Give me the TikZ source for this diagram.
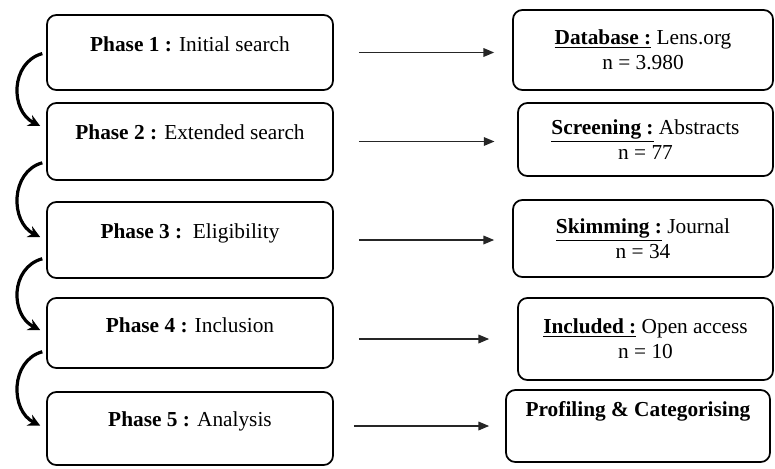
\documentclass[tikz,border=0pt]{standalone}
\usepackage{fontspec}
\setmainfont{Liberation Serif}
\usetikzlibrary{arrows.meta}

\begin{document}
\begin{tikzpicture}[x=0.75pt,y=0.75pt,yscale=-1,xscale=1,
  phasebox/.style={draw, line width=1.3pt, rounded corners=7pt, minimum width=214.5pt},
  resultbox/.style={draw, line width=1.3pt, rounded corners=7pt, align=center, inner sep=0.75pt, font=\fontsize{16}{18.5}\selectfont},
  phasetext/.style={inner sep=0.75pt, font=\fontsize{16}{18.5}\selectfont},
  flowarrow/.style={line width=0.9pt, draw=black!85, -{Triangle[length=8pt,width=6.5pt]}, shorten <=18.75pt},
  bendarrow/.style={line width=2.4pt, -{Stealth[length=9pt,width=9pt]}, shorten <=3pt, shorten >=5pt}]
\useasboundingbox (0,0) rectangle (775,468);

% Phase boxes
\draw (190,52.5) node [phasebox, minimum height=56.25pt] (p1) {};
\draw (190,141.5) node [phasebox, minimum height=57.75pt] (p2) {};
\draw (190,240) node [phasebox, minimum height=57pt] (p3) {};
\draw (190,333) node [phasebox, minimum height=52.5pt] (p4) {};
\draw (190,428.5) node [phasebox, minimum height=54.75pt] (p5) {};

% Phase labels
\path (p1.north) ++(0,37) node [phasetext, anchor=base] (t1) {\textbf{Phase 1 :} Initial search};
\path (p2.north) ++(0,37) node [phasetext, anchor=base] (t2) {\textbf{Phase 2 :} Extended search};
\path (p3.north) ++(0,37) node [phasetext, anchor=base] (t3) {\textbf{Phase 3 :}\ \ Eligibility};
\path (p4.north) ++(0,35) node [phasetext, anchor=base] (t4) {\textbf{Phase 4 :} Inclusion};
\path (p5.north) ++(0,35) node [phasetext, anchor=base] (t5) {\textbf{Phase 5 :} Analysis};

% Result boxes
\draw (643,50) node [resultbox, minimum width=195pt, minimum height=60pt] (r1) {\underline{\textbf{Database :}} Lens.org\\ n = 3.980};
\draw (645.5,139.5) node [resultbox, minimum width=191.25pt, minimum height=54.75pt] (r2) {\underline{\textbf{Screening :}} Abstracts\\ n = 77};
\draw (643,238.5) node [resultbox, minimum width=195pt, minimum height=57.75pt] (r3) {\underline{\textbf{Skimming :}} Journal\\ n = 34};
\draw (645.5,339) node [resultbox, minimum width=191.25pt, minimum height=61.5pt] (r4) {\underline{\textbf{Included :}} Open access\\ n = 10};
\draw (638,426) node [resultbox, minimum width=198pt, minimum height=54pt] (r5) {};
\path (r5.north) ++(0,27) node [phasetext, anchor=base] (t6) {\textbf{Profiling \& Categorising}};

% Horizontal arrows
\draw [flowarrow, shorten >=13.5pt] (p1.east) -- (p1.east -| r1.west);
\draw [flowarrow, shorten >=17pt] (p2.east) -- (p2.east -| r2.west);
\draw [flowarrow, shorten >=13.5pt] (p3.east) -- (p3.east -| r3.west);
\draw [flowarrow, shorten >=21pt] (r4.west -| p4.east) -- (r4.west);
\draw [flowarrow, shorten >=12pt, shorten <=15pt] (r5.west -| p5.east) -- (r5.west);

% Curved arrows between phases
\draw [bendarrow] (p1.west) .. controls +(-36,10) and +(-36,-18) .. (p2.175);
\draw [bendarrow] (p2.188) .. controls +(-36,10) and +(-36,-18) .. (p3.west);
\draw [bendarrow] (p3.187) .. controls +(-36,10) and +(-36,-18) .. (p4.west);
\draw [bendarrow] (p4.187) .. controls +(-36,10) and +(-36,-18) .. (p5.west);

\end{tikzpicture}
\end{document}
